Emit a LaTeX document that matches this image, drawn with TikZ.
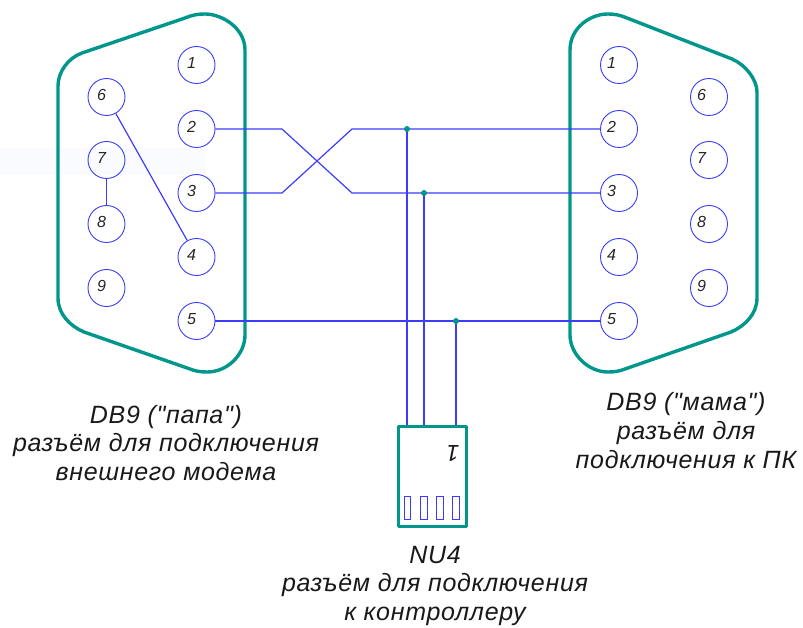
\documentclass[tikz,border=0pt]{standalone}
\usepackage{fontspec}
\setmainfont{Liberation Sans}[Ligatures=TeXOff]
\usetikzlibrary{positioning}
\definecolor{shellteal}{RGB}{0,150,140}
\definecolor{wireblue}{RGB}{60,60,250}
\definecolor{paleblue}{RGB}{250,251,255}

\begin{document}
\begin{tikzpicture}[
    x=1pt, y=-1pt,
    % Connector outline style
    shell/.style={
        draw=shellteal,
        line width=3.4pt,
        line join=round
    },
    % Number inside a pin
    pinnum/.style={
        font=\fontsize{16}{16}\selectfont\itshape,
        text=black!85,
        inner sep=0pt,
        xshift=-5pt,
        yshift=2pt
    },
    % Same number on the right connector
    pinnumr/.style={
        pinnum,
        xshift=-2.5pt
    },
    % Pin circle style
    pinbase/.style={
        circle,
        draw=wireblue,
        line width=0.9pt,
        minimum size=37pt,
        inner sep=0pt
    },
    pinbox/.style={
        pinbase,
        label={[pinnum]center:#1}
    },
    pinboxr/.style={
        pinbase,
        label={[pinnumr]center:#1}
    },
    % Wire style
    wire/.style={
        draw=wireblue,
        line width=1.2pt
    },
    % Junction dot style
    joint/.style={
        circle,
        fill=shellteal,
        minimum size=6pt,
        inner sep=0pt
    },
    % Slot of the small plug
    slotbox/.style={
        rectangle,
        draw=wireblue,
        line width=1pt,
        minimum width=6.5pt,
        minimum height=23pt,
        inner sep=0pt
    },
    % Caption style
    caption/.style={
        font=\fontsize{25}{25}\selectfont\itshape\addfontfeature{LetterSpace=2.8},
        text=black!90,
        inner sep=0pt,
        anchor=base
    }
]
\useasboundingbox (0,0) rectangle (803,628);

% === Faint band behind the left connector ===
\fill[paleblue] (0,148) rectangle (205,175);

% === Left connector shell ===
\draw[shell] (245,335) -- (245,50) .. controls (245,28) and (222,14) .. (205,14)
    .. controls (198,14) and (192,15) .. (185,18) -- (82,53)
    .. controls (68,58) and (58,72) .. (58,86) -- (58,298)
    .. controls (58,314) and (70,326) .. (84,332) -- (190,369)
    .. controls (195,371) and (200,372) .. (207,372)
    .. controls (228,372) and (245,354) .. (245,335);

% === Right connector shell ===
\draw[shell] (570,335) -- (570,50) .. controls (570,28) and (590,14) .. (608,14)
    .. controls (614,14) and (620,15) .. (627,18) -- (732,59)
    .. controls (746,65) and (757,80) .. (757,92) -- (757,298)
    .. controls (757,314) and (745,326) .. (731,332) -- (625,369)
    .. controls (620,371) and (615,372) .. (608,372)
    .. controls (588,372) and (570,354) .. (570,335);

% === Left pins ===
\node[pinbox=1] (l1) at (196.5,65) {};
\node[pinbox=2] (l2) at (196.5,129) {};
\node[pinbox=3] (l3) at (196.5,193) {};
\node[pinbox=4] (l4) at (196.5,257) {};
\node[pinbox=5] (l5) at (196.5,321) {};
\node[pinbox=6] (l6) at (106.5,97) {};
\node[pinbox=7] (l7) at (106.5,160) {};
\node[pinbox=8] (l8) at (106.5,224) {};
\node[pinbox=9] (l9) at (106.5,288) {};

% === Right pins ===
\node[pinboxr=1] (r1) at (619,65) {};
\node[pinboxr=2] (r2) at (619,129) {};
\node[pinboxr=3] (r3) at (619,193) {};
\node[pinboxr=4] (r4) at (619,257) {};
\node[pinboxr=5] (r5) at (619,321) {};
\node[pinboxr=6] (r6) at (709,97) {};
\node[pinboxr=7] (r7) at (709,160) {};
\node[pinboxr=8] (r8) at (709,224) {};
\node[pinboxr=9] (r9) at (709,288) {};

% === Small plug ===
\node[rectangle, draw=shellteal, line width=3pt, line join=round,
      minimum width=68pt, minimum height=100pt, inner sep=0pt] (plug) at (432,476) {};
\node[slotbox] (s1) at (407.5,507.5) {};
\node[slotbox] (s2) at (424,507.5) {};
\node[slotbox] (s3) at (440,507.5) {};
\node[slotbox] (s4) at (456,507.5) {};
\node[font=\fontsize{23}{23}\selectfont\itshape, text=black!90, inner sep=0pt, rotate=180] (one) at (453,453) {1};

% === Bend points of the crossing ===
\coordinate (a2) at (282,129);
\coordinate (a3) at (282,193);
\coordinate (b2) at (352,129);
\coordinate (b3) at (352,193);

% === Tap points ===
\coordinate (c2) at (407,129);
\coordinate (c3) at (424,193);
\coordinate (c5) at (456,321);

% === Wires ===
\draw[wire] (l2.east) -- (a2) -- (b3) -- (r3.west);
\draw[wire] (l3.east) -- (a3) -- (b2) -- (r2.west);
\draw[wire] (l5.east) -- (r5.west);
\draw[wire] (l6) -- (l4);
\draw[wire] (l7) -- (l8);
\draw[wire] (c2) -- (c2 |- plug.north);
\draw[wire] (c3) -- (c3 |- plug.north);
\draw[wire] (c5) -- (c5 |- plug.north);

% === Junctions ===
\node[joint] (j2) at (c2) {};
\node[joint] (j3) at (c3) {};
\node[joint] (j5) at (c5) {};

% === Captions ===
\node[caption] (cap1a) at (166,423) {DB9 ("папа")};
\node[caption] (cap1b) at (166,451) {разъём для подключения};
\node[caption] (cap1c) at (166,480) {внешнего модема};
\node[caption] (cap2a) at (686,410) {DB9 ("мама")};
\node[caption] (cap2b) at (686,439) {разъём для};
\node[caption] (cap2c) at (686,468) {подключения к ПК};
\node[caption] (cap3a) at (435,563) {NU4};
\node[caption] (cap3b) at (435,591) {разъём для подключения};
\node[caption] (cap3c) at (435,620) {к контроллеру};

\end{tikzpicture}
\end{document}
